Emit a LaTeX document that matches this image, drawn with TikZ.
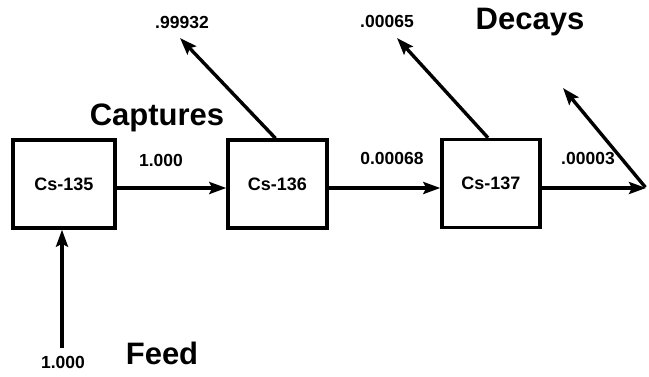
\documentclass[tikz,border=0pt]{standalone}
\usepackage{fontspec}
\setmainfont{Liberation Sans}
\usetikzlibrary{arrows.meta}
\begin{document}
\begin{tikzpicture}[x=1pt,y=-1pt,
  box/.style={draw,line width=3.4pt,minimum width=#1,minimum height=88pt,inner sep=0pt,font=\fontsize{18}{18}\selectfont\bfseries},
  arr/.style={line width=3.4pt,-{Stealth[length=17pt,width=12pt,inset=3pt]}},
  small/.style={font=\fontsize{17.5}{17.5}\selectfont\bfseries,inner sep=0pt},
  big/.style={font=\fontsize{31}{31}\selectfont\bfseries,inner sep=0pt}]
\useasboundingbox (0,0) rectangle (649,376);
\node[box=102pt] (b1) at (64,184) {Cs-135};
\node[box=99pt] (b2) at (277.5,184) {Cs-136};
\node[box=98pt] (b3) at (491,183.5) {Cs-137};
\coordinate (e) at (646,188);
\coordinate (d1) at (180,38);
\coordinate (d2) at (397,38);
\coordinate (d3) at (563,88);
\coordinate (f) at (62,348);
\draw[arr] ([yshift=-4pt]b1.east) -- ([yshift=-4pt]b2.west);
\draw[arr] ([yshift=-4pt]b2.east) -- ([yshift=-4.5pt]b3.west);
\draw[arr] ([yshift=-4.5pt]b3.east) -- (e);
\draw[arr] ([xshift=-2pt]b2.north) -- (d1);
\draw[arr] ([xshift=-3pt]b3.north) -- (d2);
\draw[arr,shorten <=1pt] (e) -- (d3);
\draw[arr] (f) -- ([xshift=-2pt]b1.south);
\node[small] (l1) at (161,160) {1.000};
\node[small] (l2) at (392,158) {0.00068};
\node[small] (l3) at (182,22) {.99932};
\node[small] (l4) at (387,21) {.00065};
\node[small] (l5) at (588,158) {.00003};
\node[small] (l6) at (63,362) {1.000};
\node[big] (t1) at (157,118) {Captures};
\node[big] (t2) at (530,22) {Decays};
\node[big] (t3) at (162,353) {Feed};
\end{tikzpicture}
\end{document}
